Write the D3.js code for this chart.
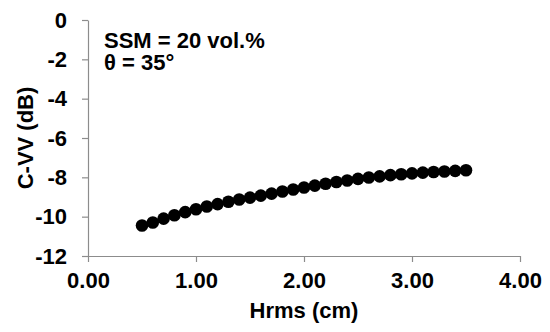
<!DOCTYPE html>
<html><head><meta charset="utf-8">
<script src="https://cdn.jsdelivr.net/npm/d3@7"></script>
<style>html,body{margin:0;padding:0;background:#fff;}text{font-family:"Liberation Sans",Arial,sans-serif;font-weight:bold;}</style>
</head><body><svg id="c" width="550" height="332"></svg>
<script>
const hrms = [0.5,0.6,0.7,0.8,0.9,1.0,1.1,1.2,1.3,1.4,1.5,1.6,1.7,1.8,1.9,2.0,2.1,2.2,2.3,2.4,2.5,2.6,2.7,2.8,2.9,3.0,3.1,3.2,3.3,3.4,3.5];
const cvv = [-10.45,-10.3,-10.1,-9.93,-9.77,-9.62,-9.48,-9.36,-9.24,-9.13,-9.03,-8.93,-8.83,-8.72,-8.62,-8.52,-8.42,-8.33,-8.24,-8.16,-8.08,-8.01,-7.95,-7.89,-7.84,-7.8,-7.76,-7.73,-7.7,-7.67,-7.64];
const xTicks = [0,1,2,3,4];
const yTicks = [0,-2,-4,-6,-8,-10,-12];
const annotations = ["SSM = 20 vol.%","θ = 35°"];
const xTitle = "Hrms (cm)", yTitle = "C-VV (dB)";

const svg = d3.select("#c");
const x = d3.scaleLinear().domain([0,4]).range([88,520]);
const y = d3.scaleLinear().domain([-12,0]).range([256,20]);
const axisColor = "#8c8c8c";
const fs = "22px";

const xa = svg.append("g").attr("transform","translate(0,256)")
  .call(d3.axisBottom(x).tickValues(xTicks).tickFormat(d3.format(".2f")).tickSize(6).tickSizeOuter(0).tickPadding(10));
const ya = svg.append("g").attr("transform","translate(88,0)")
  .call(d3.axisLeft(y).tickValues(yTicks).tickFormat(d=>d===0?"0":d3.format("d")(d).replace("−","-")).tickSize(6).tickSizeOuter(0).tickPadding(15));
[xa,ya].forEach(g=>{
  g.selectAll("path,line").attr("stroke",axisColor).attr("stroke-width",1.2);
  g.selectAll("text").attr("fill","#000").style("font-size",fs).style("font-family","'Liberation Sans',Arial,sans-serif").style("font-weight","bold");
});

svg.append("g").selectAll("circle").data(hrms).join("circle")
  .attr("cx",(d)=>x(d)).attr("cy",(d,i)=>y(cvv[i])).attr("r",6.3).attr("fill","#000");

svg.append("text").attr("x",104).attr("y",48).attr("font-size",fs).text(annotations[0]);
svg.append("text").attr("x",104).attr("y",70).attr("font-size",fs).text(annotations[1]);

svg.append("text").attr("x",304).attr("y",318).attr("text-anchor","middle").attr("font-size",fs).text(xTitle);
svg.append("text").attr("transform","translate(33,138) rotate(-90)").attr("text-anchor","middle").attr("font-size",fs).text(yTitle);
</script></body></html>
